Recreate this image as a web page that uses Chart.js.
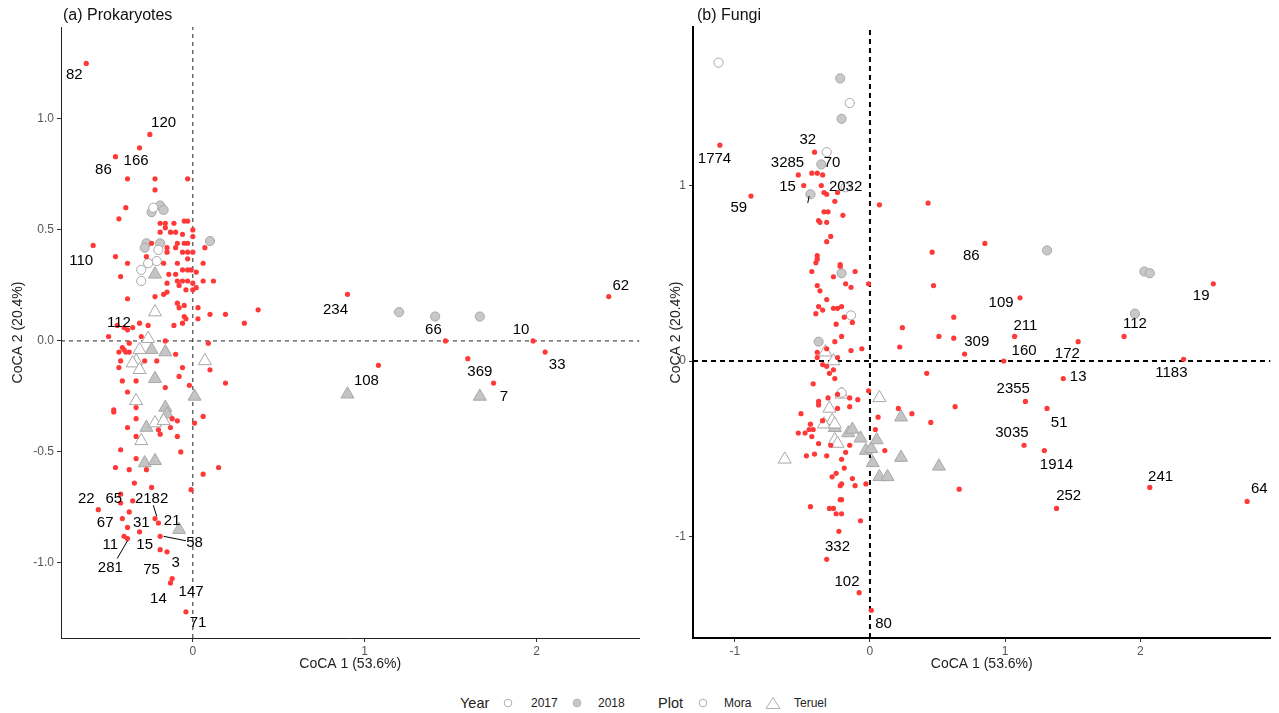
<!DOCTYPE html>
<html lang="en">
<head>
<meta charset="UTF-8" />
<title>CoCA biplots</title>
<script src="https://cdn.jsdelivr.net/npm/chart.js"></script>
<style>
  body { margin: 0; background: #fff; font-family: "Liberation Sans", Arial, sans-serif; }
  #wrap { position: relative; width: 1279px; height: 713px; overflow: hidden; }
  canvas { position: absolute; top: 0; }
  #prok { left: 0; }
  #fungi { left: 648px; }
  .panel-title { position: absolute; top: 6px; font-size: 16px; color: #111; }
  .lg { position: absolute; top: 703px; transform: translateY(-50%); color: #222; font-size: 12px; white-space: nowrap; }
  .lg.head { font-size: 14.5px; }
  .lg svg { display: block; }
</style>
</head>
<body>
<div id="wrap">
  <canvas id="prok" width="648" height="680"></canvas>
  <canvas id="fungi" width="631" height="680"></canvas>
  <div class="panel-title" style="left:63px;">(a) Prokaryotes</div>
  <div class="panel-title" style="left:697px;">(b) Fungi</div>

  <!-- legend -->
  <span class="lg head" style="left:460px;">Year</span>
  <span class="lg" style="left:503px;"><svg width="10" height="10"><circle cx="5" cy="5" r="3.8" fill="#fff" stroke="#b0b0b0"/></svg></span>
  <span class="lg" style="left:531px;">2017</span>
  <span class="lg" style="left:572px;"><svg width="10" height="10"><circle cx="5" cy="5" r="3.8" fill="#c8c8c8" stroke="#b0b0b0"/></svg></span>
  <span class="lg" style="left:598px;">2018</span>
  <span class="lg head" style="left:658px;">Plot</span>
  <span class="lg" style="left:698px;"><svg width="10" height="10"><circle cx="5" cy="5" r="3.8" fill="#fff" stroke="#b0b0b0"/></svg></span>
  <span class="lg" style="left:724px;">Mora</span>
  <span class="lg" style="left:765px;"><svg width="16" height="14"><polygon points="8,1.5 15,12.5 1,12.5" fill="#fff" stroke="#b0b0b0"/></svg></span>
  <span class="lg" style="left:794px;">Teruel</span>
</div>

<script>
// ---------- (a) Prokaryotes ----------
const prokXTicks = [0, 1, 2];
const prokYTicks = [-1, -0.5, 0, 0.5, 1];

// species scores (red)
const prokSpecies = [
  [-0.62,1.25],[-0.25,0.93],[-0.31,0.87],[-0.45,0.83],[-0.38,0.73],[-0.22,0.73],[-0.03,0.73],[-0.22,0.68],
  [-0.39,0.60],[-0.43,0.55],[-0.19,0.53],[-0.16,0.53],[-0.16,0.51],[-0.11,0.53],[-0.05,0.54],[-0.03,0.54],
  [0.00,0.50],[-0.13,0.49],[-0.10,0.49],[-0.06,0.48],[0.00,0.47],[-0.19,0.49],[-0.24,0.44],[-0.58,0.43],
  [-0.09,0.44],[-0.05,0.44],[-0.03,0.44],[-0.15,0.42],[-0.10,0.42],[-0.15,0.40],[-0.45,0.38],[-0.27,0.38],
  [0.07,0.42],[-0.06,0.40],[-0.03,0.40],[0.00,0.40],[-0.17,0.35],[-0.09,0.35],[-0.38,0.35],[-0.03,0.37],
  [0.06,0.35],[-0.06,0.32],[-0.03,0.32],[-0.01,0.32],[0.02,0.31],[-0.42,0.29],[-0.14,0.30],[-0.10,0.30],
  [-0.09,0.27],[-0.06,0.27],[-0.03,0.27],[0.00,0.26],[0.06,0.27],[0.12,0.27],[-0.15,0.26],[-0.08,0.25],
  [-0.04,0.23],[0.00,0.23],[0.02,0.24],[-0.15,0.22],[-0.17,0.21],[-0.38,0.19],[-0.22,0.20],[-0.09,0.17],
  [-0.05,0.16],[-0.08,0.15],[0.03,0.15],[0.38,0.14],[0.10,0.12],[0.19,0.12],[-0.05,0.11],[-0.04,0.10],
  [0.03,0.10],[-0.06,0.08],[0.30,0.08],[-0.31,0.08],[-0.26,0.07],[-0.44,0.07],[-0.11,0.07],[-0.40,0.06],
  [-0.38,0.05],[-0.35,0.06],[-0.49,0.02],[-0.30,0.02],[0.09,-0.01],[-0.16,0.00],[-0.37,-0.01],[-0.41,-0.03],
  [-0.40,-0.04],[-0.37,-0.05],[-0.39,-0.05],[-0.43,-0.05],[-0.42,-0.09],[-0.43,-0.12],[-0.10,-0.06],[-0.21,-0.09],
  [-0.28,-0.09],[-0.06,-0.12],[0.10,-0.13],[-0.08,-0.16],[-0.33,-0.18],[-0.41,-0.18],[-0.16,-0.21],[0.19,-0.19],
  [-0.02,-0.20],[-0.38,-0.23],[-0.46,-0.31],[-0.46,-0.32],[-0.33,-0.30],[0.06,-0.34],[-0.33,-0.35],[-0.12,-0.35],
  [-0.38,-0.39],[-0.20,-0.40],[-0.19,-0.42],[-0.13,-0.39],[-0.09,-0.36],[-0.09,-0.43],[-0.33,-0.43],[0.01,-0.37],
  [-0.42,-0.49],[-0.07,-0.50],[-0.33,-0.53],[-0.45,-0.57],[-0.37,-0.58],[-0.27,-0.58],[0.15,-0.57],[0.06,-0.60],
  [-0.34,-0.64],[-0.24,-0.66],[-0.01,-0.67],[-0.42,-0.69],[-0.42,-0.73],[-0.35,-0.72],[-0.55,-0.76],[-0.37,-0.77],
  [-0.41,-0.80],[-0.22,-0.80],[-0.20,-0.82],[-0.38,-0.84],[-0.31,-0.86],[-0.40,-0.88],[-0.38,-0.89],[-0.19,-0.88],
  [-0.19,-0.94],[-0.15,-0.95],[-0.12,-1.07],[-0.13,-1.09],[-0.04,-1.22],
  [0.90,0.21],[1.08,-0.11],[1.47,0.00],[1.60,-0.08],[1.75,-0.19],[1.98,0.00],[2.05,-0.05],[2.42,0.20]
];
const prokMora2017 = [[-0.23,0.60],[-0.20,0.41],[-0.21,0.36],[-0.26,0.35],[-0.30,0.32],[-0.30,0.27]];
const prokMora2018 = [[-0.19,0.61],[-0.24,0.58],[-0.17,0.59],[-0.27,0.44],[-0.28,0.42],[-0.19,0.44],[0.10,0.45],
  [1.20,0.13],[1.41,0.11],[1.67,0.11]];
const prokTeruel2017 = [[-0.22,0.13],[-0.26,0.01],[-0.31,-0.04],[-0.33,-0.09],[-0.35,-0.10],[-0.31,-0.13],
  [0.07,-0.09],[-0.33,-0.27],[-0.22,-0.37],[-0.17,-0.36],[-0.30,-0.45]];
const prokTeruel2018 = [[-0.22,0.30],[-0.24,-0.04],[-0.16,-0.05],[-0.22,-0.17],[-0.16,-0.30],[0.01,-0.25],
  [-0.15,-0.33],[-0.27,-0.39],[-0.28,-0.55],[-0.22,-0.54],[-0.08,-0.85],[0.90,-0.24],[1.67,-0.25]];
// species labels: text, label x, label y
const prokLabels = [
  ['82',-0.69,1.20],['120',-0.17,0.98],['166',-0.33,0.81],['86',-0.52,0.77],['110',-0.65,0.36],['112',-0.43,0.08],
  ['234',0.83,0.14],['66',1.40,0.05],['10',1.91,0.05],['62',2.49,0.25],['33',2.12,-0.11],['369',1.67,-0.14],
  ['108',1.01,-0.18],['7',1.81,-0.25],['22',-0.62,-0.71],['65',-0.46,-0.71],['2182',-0.24,-0.71],['67',-0.51,-0.82],
  ['31',-0.30,-0.82],['21',-0.12,-0.81],['11',-0.48,-0.92],['15',-0.28,-0.92],['58',0.01,-0.91],['281',-0.48,-1.02],
  ['75',-0.24,-1.03],['3',-0.10,-1.00],['14',-0.20,-1.16],['147',-0.01,-1.13],['71',0.03,-1.27]
];
const prokLeaders = [[-0.23,-0.74,-0.21,-0.79],[-0.44,-0.98,-0.38,-0.90],[-0.17,-0.88,-0.04,-0.90]];

// ---------- (b) Fungi ----------
const fungiXTicks = [-1, 0, 1, 2];
const fungiYTicks = [-1, 0, 1];

const fungiSpecies = [
  [-1.11,1.23],[-0.41,1.19],[-0.53,1.06],[-0.43,1.07],[-0.39,1.07],[-0.35,1.06],[-0.49,1.00],[-0.36,1.00],
  [-0.34,0.96],[-0.32,0.95],[-0.24,0.96],[-0.26,0.91],[-0.88,0.94],[0.07,0.89],[-0.34,0.85],[-0.31,0.85],
  [-0.20,0.83],[-0.38,0.80],[-0.37,0.79],[-0.32,0.79],[-0.29,0.71],[-0.32,0.68],[-0.39,0.60],[-0.39,0.58],
  [-0.40,0.56],[-0.22,0.55],[-0.22,0.54],[-0.43,0.51],[-0.27,0.48],[-0.11,0.51],[-0.01,0.44],[-0.39,0.43],
  [-0.37,0.40],[-0.18,0.44],[-0.14,0.42],[-0.32,0.35],[-0.38,0.31],[-0.35,0.29],[-0.40,0.27],[-0.27,0.30],
  [-0.24,0.30],[-0.21,0.31],[-0.19,0.25],[-0.13,0.22],[-0.25,0.21],[0.24,0.19],[-0.21,0.14],[-0.26,0.11],
  [0.22,0.08],[-0.39,0.05],[-0.39,0.02],[-0.32,0.07],[-0.14,0.06],[-0.06,0.07],[-0.24,0.02],[-0.35,-0.02],
  [-0.32,-0.03],[-0.27,-0.05],[-0.30,-0.07],[-0.26,-0.10],[-0.42,-0.13],[-0.01,-0.17],[-0.31,-0.21],[-0.24,-0.19],
  [-0.15,-0.21],[-0.09,-0.22],[-0.38,-0.23],[-0.38,-0.25],[-0.15,-0.26],[-0.24,-0.27],[0.21,-0.27],[0.06,-0.32],
  [-0.51,-0.30],[-0.44,-0.36],[-0.45,-0.39],[-0.42,-0.39],[-0.35,-0.34],[-0.53,-0.41],[-0.48,-0.41],[0.04,-0.39],
  [-0.43,-0.43],[-0.38,-0.47],[-0.15,-0.48],[0.11,-0.51],[-0.29,-0.48],[-0.47,-0.54],[-0.41,-0.53],[-0.32,-0.54],
  [-0.18,-0.52],[-0.21,-0.56],[-0.19,-0.61],[-0.25,-0.64],[-0.28,-0.66],[-0.13,-0.67],[-0.11,-0.71],[-0.21,-0.70],
  [-0.22,-0.71],[-0.03,-0.70],[-0.22,-0.79],[-0.21,-0.79],[-0.44,-0.83],[-0.30,-0.84],[-0.27,-0.84],[-0.25,-0.87],
  [-0.21,-0.87],[-0.07,-0.91],[-0.23,-0.97],[-0.32,-1.13],[-0.08,-1.32],[0.01,-1.42],
  [0.43,0.90],[0.85,0.67],[0.46,0.62],[0.47,0.43],[1.11,0.36],[2.54,0.44],[0.62,0.25],[0.51,0.14],
  [0.62,0.13],[1.07,0.14],[1.54,0.11],[1.88,0.14],[0.70,0.04],[0.99,0.00],[2.32,0.01],[0.42,-0.07],
  [1.43,-0.10],[1.15,-0.23],[1.31,-0.27],[0.63,-0.26],[0.31,-0.30],[0.45,-0.35],[1.14,-0.48],[1.29,-0.51],
  [0.66,-0.73],[2.07,-0.72],[1.38,-0.84],[2.79,-0.80]
];
const fungiMora2017 = [[-1.12,1.70],[-0.15,1.47],[-0.32,1.19],[-0.18,0.99],[-0.14,0.26],[-0.21,-0.18]];
const fungiMora2018 = [[-0.22,1.61],[-0.21,1.38],[-0.36,1.12],[-0.44,0.95],[-0.21,0.50],[-0.38,0.11],
  [1.31,0.63],[2.03,0.51],[2.07,0.50],[1.96,0.27]];
const fungiTeruel2017 = [[-0.33,0.05],[-0.27,0.00],[-0.21,-0.19],[0.07,-0.21],[-0.30,-0.27],[-0.28,-0.34],
  [-0.34,-0.36],[-0.26,-0.36],[-0.26,-0.45],[-0.24,-0.47],[-0.63,-0.56]];
const fungiTeruel2018 = [[-0.26,-0.38],[-0.16,-0.41],[-0.13,-0.39],[-0.07,-0.44],[-0.03,-0.51],[0.01,-0.50],
  [0.05,-0.45],[0.02,-0.58],[0.07,-0.66],[0.13,-0.66],[0.23,-0.32],[0.23,-0.55],[0.51,-0.60]];
const fungiLabels = [
  ['1774',-1.15,1.15],['32',-0.46,1.26],['3285',-0.61,1.13],['70',-0.28,1.13],['15',-0.61,0.99],['2032',-0.18,0.99],
  ['59',-0.97,0.87],['86',0.75,0.60],['109',0.97,0.33],['211',1.15,0.20],['309',0.79,0.11],['160',1.14,0.06],
  ['172',1.46,0.04],['112',1.96,0.21],['19',2.45,0.37],['1183',2.23,-0.07],['13',1.54,-0.09],['2355',1.06,-0.16],
  ['51',1.40,-0.35],['3035',1.05,-0.41],['1914',1.38,-0.59],['241',2.15,-0.66],['252',1.47,-0.77],['64',2.88,-0.73],
  ['332',-0.24,-1.06],['102',-0.17,-1.26],['80',0.10,-1.50]
];
const fungiLeaders = [[-0.45,0.94,-0.46,0.90]];

// ---------- drawing ----------
const FONT = '"Liberation Sans", Arial, sans-serif';
const RED = '#ff3838';

function pts(arr) { return arr.map(([x, y]) => ({ x, y })); }

function labelPlugin(labels, leaders) {
  return {
    id: 'speciesLabels',
    afterDatasetsDraw(chart) {
      const { ctx, scales: { x, y } } = chart;
      ctx.save();
      ctx.strokeStyle = '#000';
      ctx.lineWidth = 1;
      leaders.forEach(([x0, y0, x1, y1]) => {
        ctx.beginPath();
        ctx.moveTo(x.getPixelForValue(x0), y.getPixelForValue(y0));
        ctx.lineTo(x.getPixelForValue(x1), y.getPixelForValue(y1));
        ctx.stroke();
      });
      ctx.font = '15px ' + FONT;
      ctx.fillStyle = '#000';
      ctx.textAlign = 'center';
      ctx.textBaseline = 'middle';
      labels.forEach(([t, lx, ly]) => ctx.fillText(t, x.getPixelForValue(lx), y.getPixelForValue(ly)));
      ctx.restore();
    }
  };
}

function makePanel(id, d) {
  const lineCol = d.bold ? '#000' : '#222';
  const lineW = d.bold ? 2 : 1;
  const dash = d.bold ? [5, 4] : [4, 4];
  const axis = (ticks, fmt) => ({
    type: 'linear',
    min: ticks.min, max: ticks.max,
    grid: { drawOnChartArea: false, drawTicks: true, tickLength: 4, color: '#333', tickColor: '#333' },
    border: { display: true, color: lineCol, width: lineW },
    ticks: { color: '#555', font: { family: FONT, size: 12 }, padding: 3, callback: fmt }
  });
  const xScale = axis({ min: d.xMin, max: d.xMax }, v => String(v));
  xScale.afterBuildTicks = s => { s.ticks = d.xTicks.map(v => ({ value: v })); };
  xScale.afterFit = s => { s.height = 42; };
  xScale.title = { display: true, text: 'CoCA 1 (53.6%)', color: '#222', font: { family: FONT, size: 14 }, padding: { top: 0, bottom: 7 } };
  xScale.ticks.padding = 2;

  const yScale = axis({ min: d.yMin, max: d.yMax }, v => d.yFmt(v));
  yScale.afterBuildTicks = s => { s.ticks = d.yTicks.map(v => ({ value: v })); };
  yScale.afterFit = s => { s.width = d.yWidth; };
  yScale.title = { display: true, text: 'CoCA 2 (20.4%)', color: '#222', font: { family: FONT, size: 14 }, padding: { top: d.yTitlePad, bottom: 0 } };

  new Chart(document.getElementById(id), {
    type: 'scatter',
    data: {
      datasets: [
        { label: 'species', data: pts(d.species), pointRadius: 2.6, backgroundColor: RED, borderWidth: 0 },
        { label: '2017 Mora', data: pts(d.mora17), pointRadius: 4.6, backgroundColor: '#fff', borderColor: '#a8a8a8', borderWidth: 1 },
        { label: '2018 Mora', data: pts(d.mora18), pointRadius: 4.6, backgroundColor: '#c8c8c8', borderColor: '#a8a8a8', borderWidth: 1 },
        { label: '2017 Teruel', data: pts(d.ter17), pointStyle: 'triangle', pointRadius: 7.5, backgroundColor: '#fff', borderColor: '#a8a8a8', borderWidth: 1 },
        { label: '2018 Teruel', data: pts(d.ter18), pointStyle: 'triangle', pointRadius: 7.5, backgroundColor: '#c4c4c4', borderColor: '#a8a8a8', borderWidth: 1 },
        { type: 'line', data: [{ x: 0, y: d.yMin }, { x: 0, y: d.yMax }], borderColor: lineCol, borderWidth: lineW, borderDash: dash, pointRadius: 0 },
        { type: 'line', data: [{ x: d.xMin, y: 0 }, { x: d.xMax, y: 0 }], borderColor: lineCol, borderWidth: lineW, borderDash: dash, pointRadius: 0 }
      ]
    },
    options: {
      responsive: false,
      animation: false,
      events: [],
      layout: { padding: { top: 27, right: d.padRight, left: 0, bottom: 0 } },
      plugins: { legend: { display: false }, tooltip: { enabled: false } },
      scales: { x: xScale, y: yScale }
    },
    plugins: [labelPlugin(d.labels, d.leaders)]
  });
}

makePanel('prok', {
  species: prokSpecies, mora17: prokMora2017, mora18: prokMora2018, ter17: prokTeruel2017, ter18: prokTeruel2018,
  labels: prokLabels, leaders: prokLeaders, xTicks: prokXTicks, yTicks: prokYTicks,
  xMin: -0.767, xMax: 2.599, yMin: -1.338, yMax: 1.414,
  yFmt: v => v.toFixed(1), yWidth: 61, yTitlePad: 10, padRight: 6, bold: false
});
makePanel('fungi', {
  species: fungiSpecies, mora17: fungiMora2017, mora18: fungiMora2018, ter17: fungiTeruel2017, ter18: fungiTeruel2018,
  labels: fungiLabels, leaders: fungiLeaders, xTicks: fungiXTicks, yTicks: fungiYTicks,
  xMin: -1.309, xMax: 2.963, yMin: -1.578, yMax: 1.903,
  yFmt: v => String(v), yWidth: 45, yTitlePad: 20, padRight: 0, bold: true
});
</script>
</body>
</html>
